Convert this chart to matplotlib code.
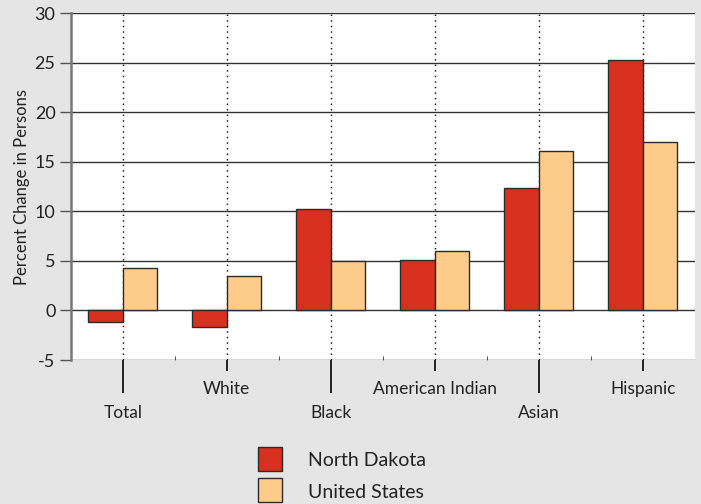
import matplotlib
matplotlib.use("Agg")
import matplotlib.pyplot as plt
from matplotlib.patches import Rectangle
import numpy as np

plt.rcParams["font.family"] = ["Lato", "DejaVu Sans"]

categories = ["Total", "White", "Black", "American Indian", "Asian", "Hispanic"]
north_dakota = [-1.2, -1.7, 10.2, 5.1, 12.3, 25.3]
united_states = [4.3, 3.5, 5.0, 6.0, 16.1, 17.0]
series_names = ["North Dakota", "United States"]
yticks = [-5, 0, 5, 10, 15, 20, 25, 30]

RED = "#d7301f"
TAN = "#fdcc8a"
EDGE = "#2b2b2b"
BG = "#e5e5e5"

fig = plt.figure(figsize=(7.01, 5.04), dpi=100, facecolor=BG)
ax = fig.add_axes([0.101, 0.2857, 0.890, 0.6885])
ax.set_facecolor("white")

x = np.arange(len(categories))
w = 0.33
ax.bar(x - w / 2, north_dakota, w, color=RED, edgecolor=EDGE, linewidth=1, zorder=3)
ax.bar(x + w / 2, united_states, w, color=TAN, edgecolor=EDGE, linewidth=1, zorder=3)

ax.set_xlim(-0.5, len(categories) - 0.5)
ax.set_ylim(-5, 30)

# horizontal grid + dotted category lines
for y in yticks:
    ax.axhline(y, color="#333333", lw=1, zorder=1)
for xi in x:
    ax.axvline(xi, color="black", lw=1, ls=(0, (1, 3)), zorder=2)

for s in ["top", "right", "bottom"]:
    ax.spines[s].set_visible(False)
ax.spines["left"].set_color("#777777")
ax.spines["left"].set_linewidth(1.8)

ax.set_yticks(yticks)
ax.set_yticklabels([str(v) for v in yticks], fontsize=13, color="#222222")
ax.tick_params(axis="y", length=8, width=1, color="#555555", pad=3)
ax.set_ylabel("Percent Change in Persons", fontsize=12, color="#222222", labelpad=3)

# staggered category ticks / labels
ax.set_xticks(x)
ax.set_xticklabels([])
ax.set_xticks(x[:-1] + 0.5, minor=True)
ax.tick_params(axis="x", which="minor", direction="in", length=3, color="#333333")
for i, tick in enumerate(ax.xaxis.get_major_ticks()):
    long = i % 2 == 0
    tick.tick1line.set_markersize(24 if long else 8)
    tick.tick1line.set_markeredgewidth(1.2)
    tick.tick1line.set_color("#666666")
    ax.annotate(categories[i], (x[i], 0), xycoords=ax.get_xaxis_transform(),
                xytext=(0, -38 if long else -21), textcoords="offset points",
                ha="center", va="center", fontsize=12.5, color="#222222",
                annotation_clip=False)

# legend
colors = [RED, TAN]
for j, (name, c) in enumerate(zip(series_names, colors)):
    y0 = 1 - (447 + 31 * j + 24) / 504
    fig.patches.append(Rectangle((258 / 701, y0), 24 / 701, 24 / 504,
                                 transform=fig.transFigure, facecolor=c,
                                 edgecolor=EDGE, linewidth=1))
    fig.text(308 / 701, y0 + 10 / 504, name, ha="left", va="center",
             fontsize=14, color="#222222")

fig.savefig("out.png", dpi=100, facecolor=BG)
